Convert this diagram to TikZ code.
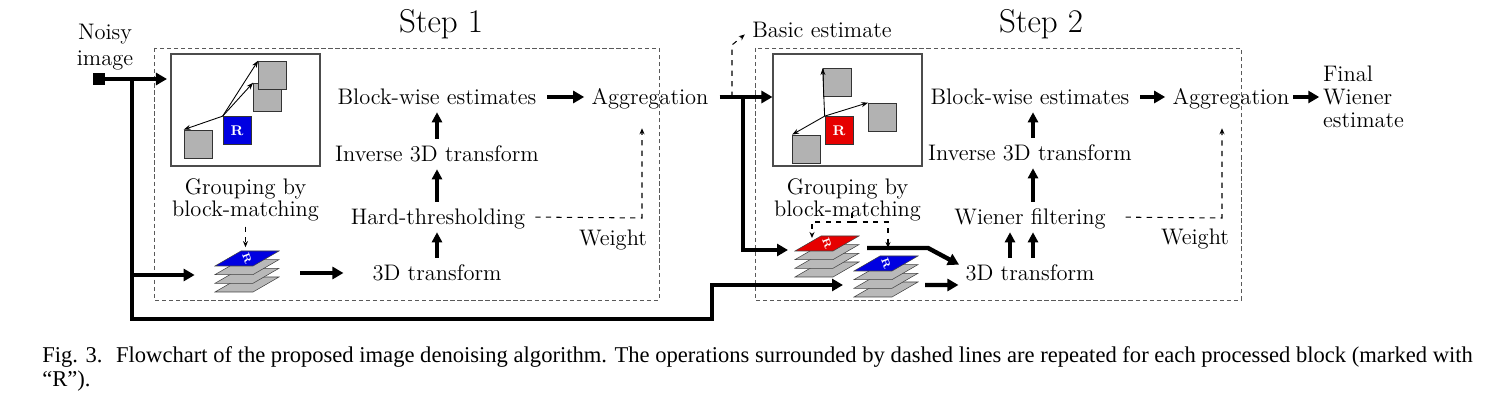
\documentclass[tikz,border=0pt]{standalone}
\usepackage{fontspec}
\newfontfamily\capfont{Liberation Serif}
\usepackage{tikz}
\usetikzlibrary{positioning,arrows.meta}
\tikzset{>=Stealth}
\definecolor{refblue}{RGB}{0,0,225}
\definecolor{refred}{RGB}{230,0,0}
\tikzset{
  txt/.style={font=\fontsize{12.8}{14}\selectfont, inner sep=1pt, text height=9.5pt, text depth=1.5pt},
  twoline/.style={font=\fontsize{12.8}{12.5}\selectfont, align=center, inner sep=1pt},
  bigarrow/.style={line width=2.5pt, -{Triangle[length=0.22cm, width=0.24cm]}},
  uparrow/.style={line width=2.3pt, -{Triangle[length=0.2cm, width=0.2cm]}},
  dasharrow/.style={dashed, line width=0.6pt, -{Stealth[length=0.12cm, width=0.1cm]}},
  thinarrow/.style={line width=0.5pt, -{Stealth[length=0.14cm, width=0.1cm]}},
  stepframe/.style={draw=gray!70!black, dash pattern=on 2.5pt off 1.5pt, line width=0.5pt},
  grpbox/.style={draw=gray!60!black, line width=0.6pt, minimum width=2.98cm, minimum height=2.24cm, inner sep=0},
  blk/.style={draw=gray!40!black, line width=0.4pt, fill=gray!60, minimum size=0.56cm, inner sep=0},
  refblk/.style={blk, fill=#1, text=white, font=\bfseries\fontsize{8}{8}\selectfont},
  plane/.style={draw=gray!50!black, line width=0.3pt, fill=gray!55},
  blockstack/.pic={
    \foreach \k in {0,1,2}
      \draw[plane] (0,{-8.7*\k}) -- ++(38,0) -- ++(26,-15) -- ++(-38,0) -- cycle;
    \draw[plane, fill=#1] (0,-26) -- ++(38,0) -- ++(26,-15) -- ++(-38,0) -- cycle;
    \node[text=white, font=\bfseries\fontsize{6}{6}\selectfont, rotate=-70, inner sep=0] at (32,-33.5) {R};
    \node[inner sep=0, minimum width=1.28cm, minimum height=0.82cm] (-bb) at (32,-20.5) {};
  }
}

\begin{document}
\begin{tikzpicture}[x=0.02cm, y=-0.02cm]
    \useasboundingbox (0,0) rectangle (1505,401);
    % dashed frames of the two steps
    \draw[stepframe] (154,48) rectangle (659,300);
    \draw[stepframe] (755,48) rectangle (1241,300);
    \node[font=\fontsize{18.8}{20}\selectfont] (stepA) at (441,24) {Step 1};
    \node[font=\fontsize{18.8}{20}\selectfont] (stepB) at (1041,24) {Step 2};
    % set up the nodes of step 1
    \node[fill, minimum size=0.24cm, inner sep=0] (src) at (99,79) {};
    \node[twoline, font=\fontsize{12.8}{14.5}\selectfont] (noisy) at (105,47) {Noisy\\image};
    \node[grpbox] (grpA) at (245.5,110) {};
    \node[blk] (bA1) at (198,144) {};
    \node[blk] (bA2) at (267.5,97) {};
    \node[blk] (bA3) at (272.5,75) {};
    \node[refblk=refblue] (rA) at (237,130.5) {R};
    \node[twoline, below=0.2cm of grpA] (grpAl) {Grouping by\\block-matching};
    \pic (sA) at (215,292) {blockstack=refblue};
    \node[txt] (trA) at (437,273) {3D transform};
    \node[txt] (htA) at (438,217) {Hard-thresholding};
    \node[txt] (invA) at (437,154) {Inverse 3D transform};
    \node[txt] (bwA) at (437,97) {Block-wise estimates};
    \node[txt] (agA) at (650,97) {Aggregation};
    \node[txt] (wtA) at (613,238) {Weight};
    % set up the nodes of step 2
    \node[txt] (basic) at (822,30) {Basic estimate};
    \node[grpbox] (grpB) at (847.5,110) {};
    \node[blk] (bB1) at (837,82.5) {};
    \node[blk] (bB2) at (882.5,117) {};
    \node[blk] (bB3) at (806.5,149) {};
    \node[refblk=refred] (rB) at (839,130.5) {R};
    \node[twoline, below=0.2cm of grpB] (grpBl) {Grouping by\\block-matching};
    \pic (sB) at (795,277) {blockstack=refred};
    \pic (sC) at (854,297) {blockstack=refblue};
    \node[txt] (trB) at (1030,273) {3D transform};
    \node[txt] (wfB) at (1030,217) {Wiener filtering};
    \node[txt] (invB) at (1030,153) {Inverse 3D transform};
    \node[txt] (bwB) at (1030,97) {Block-wise estimates};
    \node[txt] (agB) at (1231,97) {Aggregation};
    \node[txt] (wtB) at (1195,237) {Weight};
    \node[align=left, font=\fontsize{12.8}{13.2}\selectfont, inner sep=1pt, anchor=west] (finB) at (1321,97) {Final\\Wiener\\estimate};
    % junctions of the thick lines
    \coordinate (jA) at (132,79);
    \coordinate (jC) at (132,275);
    \coordinate (jG) at (712,319);
    \coordinate (inC) at (843,285);
    \coordinate (jD) at (732,97);
    \coordinate (jE) at (743,97);
    \coordinate (bsc) at (732,45);
    \coordinate (inB) at (788,250);
    \coordinate (outB) at (867,248);
    \coordinate (knB) at (928,248);
    \coordinate (outC) at (925,285);
    \coordinate (wcA) at (642,218);
    \coordinate (wcB) at (1222,218);
    \coordinate (brB) at (852,213);
    \coordinate (brM) at (852,222);
    \coordinate (inRed) at (812,238);
    \coordinate (inBlue) at (888,248);
    % block-matching arrows
    \draw[thinarrow] (rA.north west) -- (bA1.north west);
    \draw[thinarrow] (rA.north west) -- (bA2.north west);
    \draw[thinarrow] (rA.north west) -- (bA3.north west);
    \draw[thinarrow] (rB.north west) -- (bB1.north west);
    \draw[thinarrow] (rB.north west) -- (bB2.north west);
    \draw[thinarrow] (rB.north west) -- (bB3.north west);
    % draw arrows between the nodes
    \draw[bigarrow, shorten >=2pt] (src) -- (src -| grpA.west);
    \draw[bigarrow] (jA) |- (jG) |- (inC);
    \draw[bigarrow, shorten >=0.4cm] (jC) -- (jC -| sA-bb.west);
    \draw[dasharrow, shorten <=2pt, shorten >=2pt] (grpAl.south) -- (grpAl.south |- sA-bb.north);
    \draw[bigarrow, shorten <=0.42cm, shorten >=0.54cm] (sA-bb.east |- trA.west) -- (trA.west);
    \draw[uparrow, shorten <=2pt, shorten >=2pt] (trA.north) -- (trA.north |- htA.south);
    \draw[uparrow, shorten <=2pt, shorten >=2pt] (invA.north |- htA.north) -- (invA.south);
    \draw[uparrow, shorten <=2pt, shorten >=2pt] (invA.north) -- (bwA.south);
    \draw[bigarrow, shorten <=5pt, shorten >=3pt] (bwA) -- (agA);
    \draw[dasharrow, shorten <=0.16cm, shorten >=0.39cm] (htA.east) -- (wcA) -- (wcA |- agA.south);
    \draw[bigarrow, shorten <=0.18cm] (agA.east) -- (agA.east -| grpB.west);
    \draw[dasharrow, shorten >=0.14cm] (jD) -- (bsc) -- (basic.west);
    \draw[bigarrow] (jE) |- (inB);
    \draw[dashed, line width=0.6pt] (brB) -- (brM);
    \draw[dasharrow] (brM) -| (inRed);
    \draw[dasharrow] (brM) -| (inBlue);
    \draw[bigarrow, shorten >=0.1cm] (outB) -- (knB) -- ([yshift=0.12cm]trB.west);
    \draw[bigarrow, shorten >=0.1cm] (outC) -- ([yshift=-0.24cm]trB.west);
    \draw[uparrow, shorten <=2pt, shorten >=2pt] ([xshift=-0.4cm]trB.north) -- ([xshift=-0.4cm]wfB.south);
    \draw[uparrow, shorten <=2pt, shorten >=2pt] ([xshift=0.06cm]trB.north) -- ([xshift=0.06cm]wfB.south);
    \draw[uparrow, shorten <=2pt, shorten >=2pt] ([xshift=0.06cm]wfB.north) -- ([xshift=0.06cm]invB.south);
    \draw[uparrow, shorten <=2pt, shorten >=2pt] ([xshift=0.06cm]invB.north) -- ([xshift=0.06cm]bwB.south);
    \draw[bigarrow, shorten <=5pt, shorten >=3pt] (bwB) -- (agB);
    \draw[bigarrow, shorten <=1pt, shorten >=1pt] (agB) -- (finB.west);
    \draw[dasharrow, shorten <=0.36cm, shorten >=0.39cm] (wfB.east) -- (wcB) -- (wcB |- agB.south);
    % caption
    \node[font=\capfont\fontsize{12.85}{14}\selectfont, anchor=base west, inner sep=0] (capA) at (42,363) {Fig. 3.\hspace{0.6em}Flowchart of the proposed image denoising algorithm. The operations surrounded by dashed lines are repeated for each processed block (marked with};
    \node[font=\capfont\fontsize{12.85}{14}\selectfont, anchor=base west, inner sep=0] (capB) at (42,387) {“R”).};
\end{tikzpicture}
\end{document}
